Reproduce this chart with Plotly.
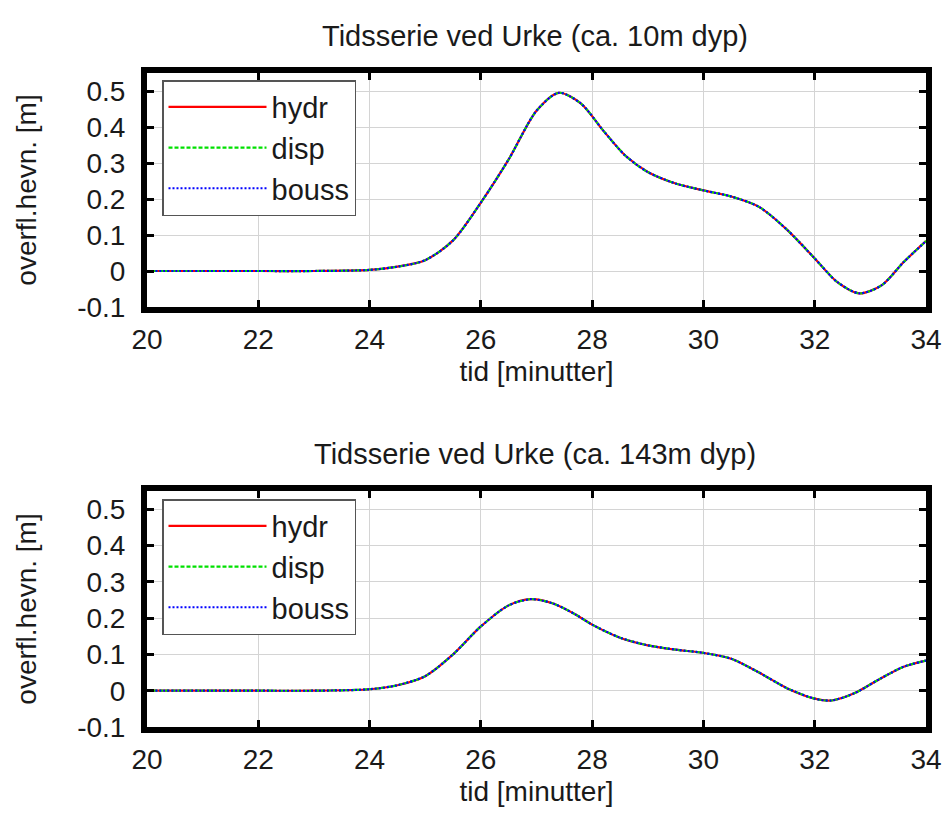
import plotly.graph_objects as go

# ---- data ----
t_top = [20, 21, 22, 23, 24, 24.5, 25, 25.5, 26, 26.5, 27, 27.4, 27.8, 28.2, 28.6,
         29, 29.5, 30, 30.5, 31, 31.5, 32, 32.4, 32.8, 33.2, 33.6, 34]
hydr_top = [0, 0, 0, 0, 0.003, 0.012, 0.03, 0.085, 0.19, 0.31, 0.445, 0.495, 0.465,
            0.39, 0.32, 0.275, 0.243, 0.224, 0.207, 0.178, 0.115, 0.035, -0.03,
            -0.062, -0.04, 0.025, 0.083]
disp_top = list(hydr_top)
bouss_top = list(hydr_top)

t_bot = [20, 21, 22, 23, 24, 24.5, 25, 25.5, 26, 26.5, 26.9, 27.3, 27.7, 28, 28.5,
         29, 29.5, 30, 30.5, 31, 31.5, 32, 32.3, 32.7, 33.2, 33.6, 34]
hydr_bot = [0, 0, 0, 0, 0.004, 0.015, 0.04, 0.1, 0.177, 0.235, 0.252, 0.24, 0.21,
            0.182, 0.146, 0.125, 0.113, 0.104, 0.088, 0.05, 0.007, -0.022, -0.027,
            -0.008, 0.035, 0.066, 0.083]
disp_bot = list(hydr_bot)
bouss_bot = list(hydr_bot)

series_names = ["hydr", "disp", "bouss"]
series_colors = ["#ff0000", "#00e000", "#0000ff"]
series_dash = ["solid", "4px,2px", "2px,2px"]

x_ticks = [20, 22, 24, 26, 28, 30, 32, 34]
x_ticktext = ["20", "22", "24", "26", "28", "30", "32", "34"]
y_ticks = [-0.1, 0, 0.1, 0.2, 0.3, 0.4, 0.5]
y_ticktext = ["-0.1", "0", "0.1", "0.2", "0.3", "0.4", "0.5"]

titles = ["Tidsserie ved Urke (ca. 10m dyp)", "Tidsserie ved Urke (ca. 143m dyp)"]
x_title = "tid [minutter]"
y_title = "overfl.hevn. [m]"

FONT = "Liberation Sans, Arial, Helvetica, sans-serif"
TXT = "#1a1a1a"
FS = 28

fig = go.Figure()

panels = [
    (t_top, [hydr_top, disp_top, bouss_top], "x", "y", "legend"),
    (t_bot, [hydr_bot, disp_bot, bouss_bot], "x2", "y2", "legend2"),
]
for t, ys, xa, ya, lg in panels:
    for name, vals, col, dash in zip(series_names, ys, series_colors, series_dash):
        fig.add_trace(go.Scatter(
            x=t, y=vals, name=name, mode="lines",
            line=dict(color=col, width=2.2, dash=dash, shape="spline", smoothing=0.8),
            xaxis=xa, yaxis=ya, legend=lg, legendgroup=lg + name,
        ))

axis_common = dict(
    showline=True, linecolor="black", linewidth=6, mirror="ticks",
    ticks="inside", ticklen=7, tickwidth=3, tickcolor="black",
    showgrid=True, gridcolor="#d4d4d4", gridwidth=1,
    zeroline=False, automargin=False,
    tickfont=dict(family=FONT, size=FS, color=TXT),
)

W, H = 934, 800
top_px, bot_px = 65, 719
plot_h = bot_px - top_px
left_px, right_px = 139, 918
d_top = [1 - (299 - top_px) / plot_h, 1]
d_bot = [0, (bot_px - 483) / plot_h]

xa = dict(axis_common, range=[20, 34], tickvals=x_ticks, ticktext=x_ticktext,
          ticklabelstandoff=2,
          title=dict(text=x_title, font=dict(family=FONT, size=FS, color=TXT), standoff=10))
ya = dict(axis_common, range=[-0.1, 0.55], tickvals=y_ticks, ticktext=y_ticktext,
          ticklabelstandoff=10,
          title=dict(text=y_title, font=dict(family=FONT, size=FS, color=TXT), standoff=34))

legend_common = dict(
    x=(154 - left_px) / (right_px - left_px), xanchor="left", yanchor="top",
    bgcolor="white", bordercolor="#555555", borderwidth=1.5,
    font=dict(family=FONT, size=29, color=TXT),
    itemwidth=98, tracegroupgap=0,
)

fig.update_layout(
    width=W, height=H,
    margin=dict(l=left_px, r=W - right_px, t=top_px, b=H - bot_px, autoexpand=False),
    paper_bgcolor="white", plot_bgcolor="white",
    xaxis=dict(xa, domain=[0, 1], anchor="y"),
    yaxis=dict(ya, domain=d_top, anchor="x"),
    xaxis2=dict(xa, domain=[0, 1], anchor="y2"),
    yaxis2=dict(ya, domain=d_bot, anchor="x2"),
    legend=dict(legend_common, y=1 - (72 - top_px) / plot_h),
    legend2=dict(legend_common, y=1 - (491 - top_px) / plot_h),
    showlegend=True,
    annotations=[
        dict(text=titles[0], xref="paper", yref="paper",
             x=(527 - left_px) / (right_px - left_px),
             y=1 + (top_px - 28) / plot_h, xanchor="center", yanchor="middle",
             showarrow=False, font=dict(family=FONT, size=29, color=TXT)),
        dict(text=titles[1], xref="paper", yref="paper",
             x=(527 - left_px) / (right_px - left_px),
             y=1 - (446 - top_px) / plot_h, xanchor="center", yanchor="middle",
             showarrow=False, font=dict(family=FONT, size=29, color=TXT)),
    ],
)

fig.write_html("out.html")
